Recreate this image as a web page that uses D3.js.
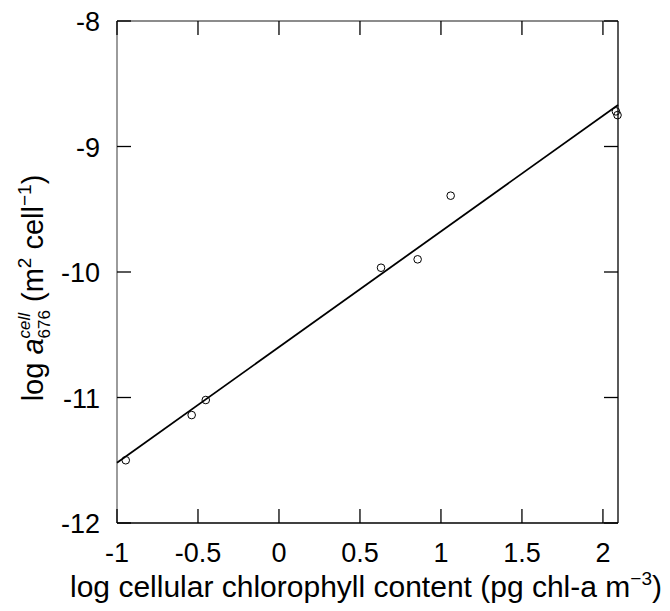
<!DOCTYPE html>
<html><head><meta charset="utf-8">
<script src="https://cdn.jsdelivr.net/npm/d3@7"></script>
<style>body{margin:0;background:#fff}svg{display:block}text{font-family:"Liberation Sans",Arial,sans-serif}</style>
</head><body>
<svg id="c" width="670" height="611"></svg>
<script>
const pointsX = [-0.946, -0.539, -0.452, 0.630, 0.856, 1.060, 2.080, 2.090];
const pointsY = [-11.50, -11.14, -11.02, -9.966, -9.899, -9.392, -8.72, -8.75];
const fitX = [-1, 2.093];
const fitY = [-11.52, -8.669];
const xTicks = [-1, -0.5, 0, 0.5, 1, 1.5, 2];
const xTickLabels = ["-1", "-0.5", "0", "0.5", "1", "1.5", "2"];
const yTicks = [-8, -9, -10, -11, -12];
const yTickLabels = ["-8", "-9", "-10", "-11", "-12"];

const L = 117, R = 618, T = 21, B = 523;
const svg = d3.select("#c");
const x = d3.scaleLinear().domain([-1, 2.093]).range([L, R]);
const y = d3.scaleLinear().domain([-12, -8]).range([B, T]);
const tk = 14;
const FS = 27;

// frame
svg.append("line").attr("x1", L).attr("x2", L).attr("y1", T).attr("y2", B).attr("stroke", "#666").attr("stroke-width", 1.3);
svg.append("line").attr("x1", L).attr("x2", R).attr("y1", T).attr("y2", T).attr("stroke", "#666").attr("stroke-width", 1.3);
svg.append("line").attr("x1", R).attr("x2", R).attr("y1", T).attr("y2", B).attr("stroke", "#000").attr("stroke-width", 1.3);
svg.append("line").attr("x1", L).attr("x2", R).attr("y1", B).attr("y2", B).attr("stroke", "#000").attr("stroke-width", 1.3);

// x ticks (bottom and top, inward)
xTicks.forEach(v => {
  svg.append("line").attr("x1", x(v)).attr("x2", x(v)).attr("y1", B).attr("y2", B - tk).attr("stroke", "#000").attr("stroke-width", 1.3);
  svg.append("line").attr("x1", x(v)).attr("x2", x(v)).attr("y1", T).attr("y2", T + tk).attr("stroke", "#000").attr("stroke-width", 1.3);
});
svg.append("g").selectAll("text").data(xTicks).join("text")
  .attr("x", d => x(d)).attr("y", 562).attr("text-anchor", "middle")
  .attr("font-size", FS).text((d, i) => xTickLabels[i]);

// y ticks (left and right, inward)
yTicks.forEach(v => {
  svg.append("line").attr("x1", L).attr("x2", L + tk).attr("y1", y(v)).attr("y2", y(v)).attr("stroke", "#000").attr("stroke-width", 1.3);
  svg.append("line").attr("x1", R).attr("x2", R - tk).attr("y1", y(v)).attr("y2", y(v)).attr("stroke", "#000").attr("stroke-width", 1.3);
});
svg.append("g").selectAll("text").data(yTicks).join("text")
  .attr("x", 100).attr("y", d => y(d) + 10).attr("text-anchor", "end")
  .attr("font-size", FS).text((d, i) => yTickLabels[i]);

// fit line
const line = d3.line().x(d => x(d[0])).y(d => y(d[1]));
svg.append("path").datum(fitX.map((v, i) => [v, fitY[i]])).attr("d", line)
  .attr("fill", "none").attr("stroke", "#000").attr("stroke-width", 1.8);

// points
svg.append("g").selectAll("circle").data(pointsX.map((v, i) => [v, pointsY[i]])).join("circle")
  .attr("cx", d => x(d[0])).attr("cy", d => y(d[1])).attr("r", 3.8)
  .attr("fill", "none").attr("stroke", "#000").attr("stroke-width", 1);

// x label
const xl = svg.append("text").attr("x", 366).attr("y", 597).attr("text-anchor", "middle").attr("font-size", 30);
xl.append("tspan").text("log cellular chlorophyll content (pg chl-a m");
xl.append("tspan").attr("dy", -12).attr("font-size", 19).text("\u22123");
xl.append("tspan").attr("dy", 12).text(")");

// y label
const yl = svg.append("text").attr("transform", "translate(43,288) rotate(-90)")
  .attr("text-anchor", "middle").attr("font-size", 29);
yl.append("tspan").text("log ");
yl.append("tspan").attr("font-style", "italic").text("a");
yl.append("tspan").attr("font-size", 17).attr("font-style", "italic").attr("dy", -13).text("cell");
yl.append("tspan").attr("font-size", 17).attr("dx", -25.5).attr("dy", 20).text("676");
yl.append("tspan").attr("dy", -7).text(" (m");
yl.append("tspan").attr("font-size", 19).attr("dy", -12).text("2");
yl.append("tspan").attr("dy", 12).text(" cell");
yl.append("tspan").attr("font-size", 19).attr("dy", -12).text("\u22121");
yl.append("tspan").attr("dy", 12).text(")");
</script>
</body></html>
